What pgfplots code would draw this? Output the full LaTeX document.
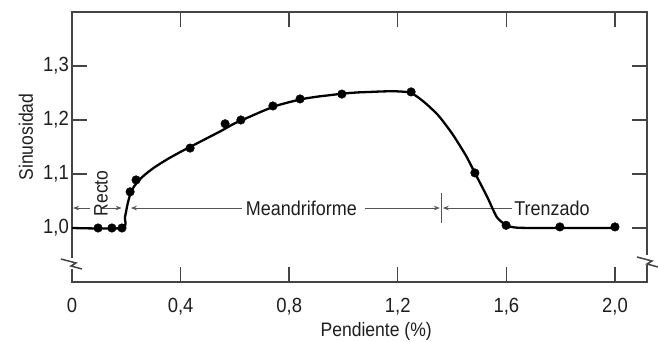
\documentclass[border=0pt]{standalone}
\usepackage{fontspec}
\setmainfont{Liberation Sans}[FakeStretch=0.9]
\usepackage{pgfplots}
\pgfplotsset{compat=1.18}
\usetikzlibrary{arrows.meta}
\definecolor{txt}{HTML}{1E1E1E}
\definecolor{axc}{HTML}{444444}
\definecolor{arc}{HTML}{555555}
\begin{document}
\begin{tikzpicture}
\begin{axis}[
  name=ax,
  scale only axis, width=575pt, height=270pt,
  xmin=0, xmax=2.118, ymin=0.9, ymax=1.4,
  clip=false,
  axis line style={axc, line width=1.5pt},
  tick style={axc, line width=1.4pt},
  major tick length=15pt,
  tick align=inside, tick pos=both,
  xtick={0,0.4,0.8,1.2,1.6,2.0},
  xticklabels={0,{0,4},{0,8},{1,2},{1,6},{2,0}},
  ytick={1.0,1.1,1.2,1.3},
  yticklabels={{1,0},{1,1},{1,2},{1,3}},
  /pgf/number format/assume math mode=true,
  ticklabel style={font=\fontsize{20.5}{22}\selectfont, text=txt},
  xticklabel style={anchor=north, inner sep=0pt, yshift=-16pt},
  yticklabel style={anchor=east, inner sep=0pt, xshift=-3pt},
  xlabel={Pendiente (\%)},
  ylabel={Sinuosidad},
  label style={font=\fontsize{19.5}{22}\selectfont, text=txt},
  xlabel style={at={(rel axis cs:0.529,0)}, anchor=center, yshift=-49pt},
  ylabel style={at={(rel axis cs:0,0.537)}, anchor=center, yshift=46pt},
]
% annotations
\begin{scope}[arc, line width=0.9pt, >={Stealth[length=6pt,width=4.5pt]}]
\draw[<-] (axis cs:0.004,1.037) -- (axis cs:0.066,1.037);
\draw[->] (axis cs:0.114,1.037) -- (axis cs:0.183,1.037);
\draw[<-] (axis cs:0.217,1.037) -- (axis cs:0.626,1.037);
\draw[->] (axis cs:1.079,1.037) -- (axis cs:1.355,1.037);
\draw (axis cs:1.36,1.009) -- (axis cs:1.36,1.065);
\draw[<-] (axis cs:1.366,1.037) -- (axis cs:1.62,1.037);
\end{scope}
\node[text=txt, font=\fontsize{19.5}{22}\selectfont, rotate=90] at (axis cs:0.107,1.064) {Recto};
\node[text=txt, font=\fontsize{20}{22}\selectfont] at (axis cs:0.845,1.037) {Meandriforme};
\node[text=txt, font=\fontsize{20}{22}\selectfont] at (axis cs:1.768,1.037) {Trenzado};
% curve
\addplot[black, line width=2.3pt, smooth, tension=0.4] coordinates {
(0,1.0)(0.185,1.0)(0.195,1.02)(0.205,1.045)(0.215,1.063)(0.23,1.078)(0.26,1.095)
(0.3,1.111)(0.35,1.127)(0.4,1.141)(0.45,1.154)(0.5,1.167)(0.55,1.18)(0.6,1.194)
(0.65,1.205)(0.7,1.216)(0.75,1.226)(0.8,1.233)(0.85,1.239)(0.9,1.243)(0.95,1.246)
(1.0,1.249)(1.05,1.251)(1.1,1.252)(1.15,1.253)(1.2,1.253)(1.25,1.25)(1.3,1.232)
(1.35,1.208)(1.4,1.175)(1.45,1.135)(1.484,1.102)(1.53,1.057)(1.565,1.02)(1.6,1.005)
(1.63,1.001)(1.7,1.0)(2.0,1.0)
};
% data points
\addplot[only marks, mark=*, mark size=4.3pt, black] coordinates {
(0.096,1.0)(0.147,1.0)(0.184,1.0)(0.214,1.067)(0.236,1.089)(0.435,1.148)
(0.564,1.193)(0.622,1.2)(0.740,1.226)(0.840,1.239)(0.994,1.248)(1.249,1.252)
(1.484,1.102)(1.599,1.005)(1.797,1.002)(2.0,1.002)
};
\end{axis}
% axis breaks
\fill[white] (-2.5pt,13pt) rectangle (2.5pt,24pt);
\draw[axc, line width=1.5pt] (-11pt,23pt) -- (4pt,19pt) -- (-1pt,16pt) -- (10pt,13pt);
\fill[white] (572.5pt,17pt) rectangle (577.5pt,27pt);
\draw[axc, line width=1.5pt] (565pt,25pt) -- (580pt,21pt) -- (575pt,18pt) -- (586pt,15pt);
\pgfresetboundingbox
\useasboundingbox (-72pt,-60pt) rectangle (586pt,282pt);
\end{tikzpicture}
\end{document}
